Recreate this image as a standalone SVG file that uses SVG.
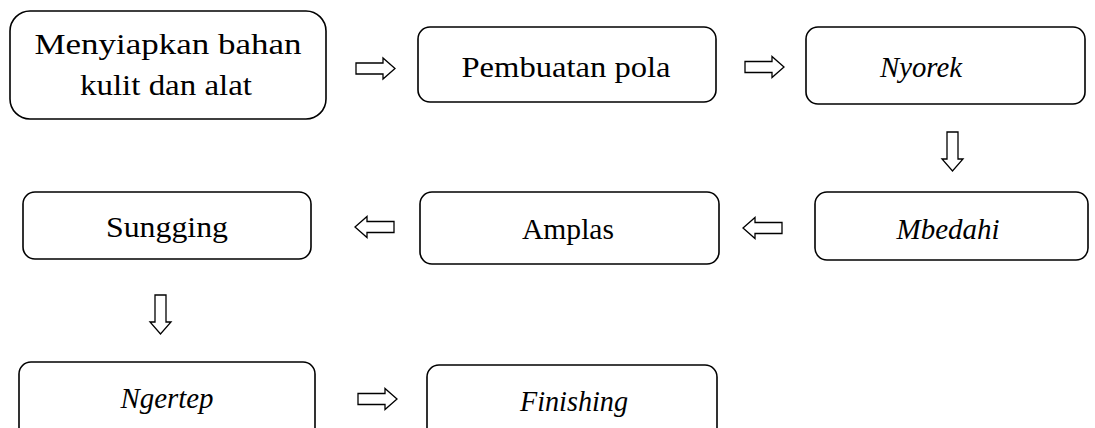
<svg xmlns="http://www.w3.org/2000/svg" width="1095" height="428" viewBox="0 0 1095 428">
<style>
.box{fill:#fff;stroke:#000;stroke-width:1.6}
.t{font-family:"Liberation Serif","Times New Roman",serif;font-size:30px;fill:#000;text-anchor:middle}
.i{font-style:italic}
.arr{fill:#fff;stroke:#000;stroke-width:1.3;stroke-linejoin:miter}
</style>
<defs>
<path id="ar" d="M0,-5.5 H27 V-10.5 L39,0 L27,10.5 V5.5 H0 Z"/>
</defs>
<rect width="1095" height="428" fill="#fff"/>
<g id="n1"><rect class="box" x="10" y="11" width="316" height="108" rx="20"/><text class="t" x="168" y="54" textLength="267" lengthAdjust="spacingAndGlyphs">Menyiapkan bahan</text><text class="t" x="166" y="95" textLength="172" lengthAdjust="spacingAndGlyphs">kulit dan alat</text></g>
<g id="n2"><rect class="box" x="418" y="27" width="298" height="75" rx="12"/><text class="t" x="566" y="77" textLength="209" lengthAdjust="spacingAndGlyphs">Pembuatan pola</text></g>
<g id="n3"><rect class="box" x="806" y="27" width="279" height="77" rx="12"/><text class="t i" x="921" y="77" textLength="82" lengthAdjust="spacingAndGlyphs">Nyorek</text></g>
<g id="n4"><rect class="box" x="815" y="192" width="273" height="68" rx="12"/><text class="t i" x="948" y="239" textLength="103" lengthAdjust="spacingAndGlyphs">Mbedahi</text></g>
<g id="n5"><rect class="box" x="420" y="192" width="299" height="72" rx="12"/><text class="t" x="568" y="239" textLength="92" lengthAdjust="spacingAndGlyphs">Amplas</text></g>
<g id="n6"><rect class="box" x="23" y="192" width="288" height="67" rx="12"/><text class="t" x="167" y="237" textLength="122" lengthAdjust="spacingAndGlyphs">Sungging</text></g>
<g id="n7"><rect class="box" x="19" y="362" width="296" height="90" rx="12"/><text class="t i" x="167" y="408" textLength="93" lengthAdjust="spacingAndGlyphs">Ngertep</text></g>
<g id="n8"><rect class="box" x="427" y="365" width="290" height="90" rx="12"/><text class="t i" x="574" y="411" textLength="108" lengthAdjust="spacingAndGlyphs">Finishing</text></g>
<g id="connectors">
<use href="#ar" class="arr" transform="translate(356,68.5)"/>
<use href="#ar" class="arr" transform="translate(745,67)"/>
<use href="#ar" class="arr" transform="translate(952.5,132) rotate(90)"/>
<use href="#ar" class="arr" transform="translate(782,228) rotate(180)"/>
<use href="#ar" class="arr" transform="translate(394,227) rotate(180)"/>
<use href="#ar" class="arr" transform="translate(160.5,295) rotate(90)"/>
<use href="#ar" class="arr" transform="translate(358,399)"/>
</g>
</svg>
